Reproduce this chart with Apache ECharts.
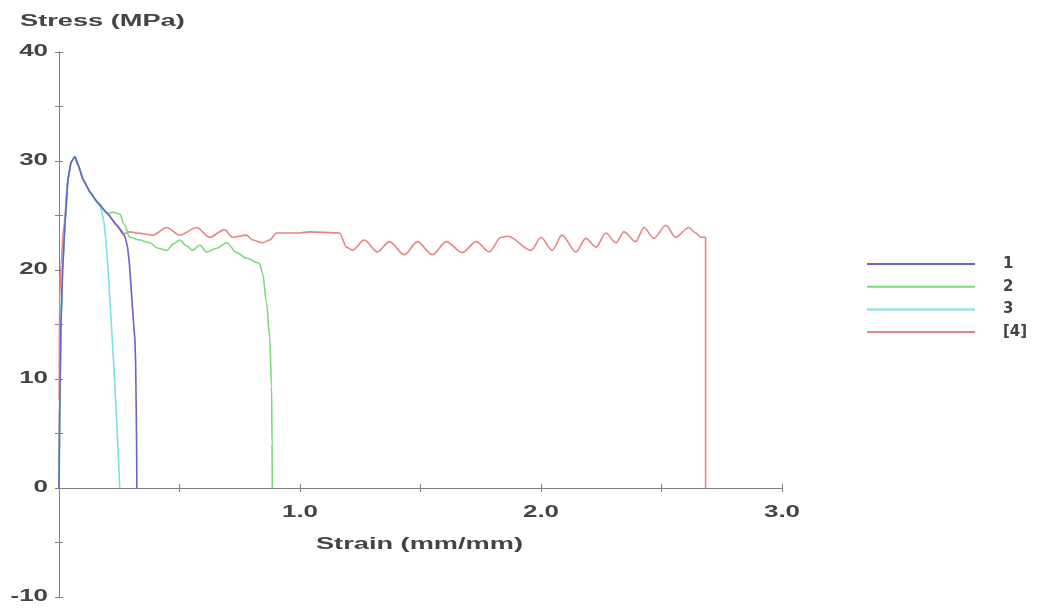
<!DOCTYPE html>
<html>
<head>
<meta charset="utf-8">
<title>Stress-Strain</title>
<script src="https://cdn.jsdelivr.net/npm/echarts@6/dist/echarts.min.js"></script>
<style>
  html, body { margin: 0; padding: 0; background: #ffffff; }
  #chart { width: 1047px; height: 614px; }
</style>
</head>
<body>
<div id="chart"></div>
<script>
// Specimen names
const specimenNames = ['1', '2', '3', '[4]'];

// Specimen 1
const strain1 = [0, 0.003, 0.008, 0.015, 0.025, 0.037, 0.05, 0.066, 0.08, 0.1, 0.13, 0.16, 0.2, 0.24, 0.262, 0.275, 0.285, 0.292, 0.298, 0.304, 0.31, 0.315, 0.318, 0.32, 0.322, 0.323];
const stress1 = [0, 7, 15, 20, 24.3, 28.3, 29.9, 30.4, 29.6, 28.3, 27.1, 26.2, 25.2, 24.1, 23.5, 23.0, 22.0, 20.6, 18.8, 16.8, 15.0, 13.6, 11.5, 8.0, 4.0, 0];

// Specimen 2
const strain2 = [0, 0.003, 0.008, 0.015, 0.025, 0.037, 0.05, 0.066, 0.08, 0.1, 0.13, 0.16, 0.2, 0.225, 0.253, 0.27, 0.294, 0.335, 0.377, 0.41, 0.447, 0.475, 0.501, 0.53, 0.555, 0.584, 0.613, 0.654, 0.696, 0.737, 0.778, 0.82, 0.832, 0.845, 0.861, 0.874, 0.882, 0.884, 0.885];
const stress2 = [0, 7, 15, 20, 24.3, 28.3, 29.9, 30.4, 29.6, 28.3, 27.1, 26.2, 25.2, 25.3, 25.1, 24.2, 23.0, 22.75, 22.5, 22.0, 21.8, 22.4, 22.75, 22.2, 21.8, 22.3, 21.65, 22.0, 22.5, 21.6, 21.1, 20.7, 20.6, 19.7, 17.0, 13.9, 9.3, 4, 0];

// Specimen 3
const strain3 = [0, 0.003, 0.008, 0.015, 0.025, 0.037, 0.05, 0.066, 0.08, 0.1, 0.13, 0.16, 0.175, 0.186, 0.195, 0.203, 0.212, 0.22, 0.228, 0.236, 0.243, 0.248, 0.252];
const stress3 = [0, 7, 15, 20, 24.3, 28.3, 29.9, 30.4, 29.6, 28.3, 27.1, 26.2, 25.6, 24.5, 22.6, 20.2, 17.0, 14.0, 11.0, 7.6, 4.5, 2.0, 0];

// Specimen 4
const strain4 = [0, 0.001, 0.002, 0.008, 0.02, 0.037, 0.05, 0.066, 0.08, 0.1, 0.13, 0.16, 0.2, 0.24, 0.265,
  0.294, 0.323, 0.389, 0.447, 0.501, 0.571, 0.625, 0.687, 0.72, 0.778, 0.803, 0.845, 0.874, 0.903, 0.998, 1.039, 1.164,
  1.193, 1.217, 1.267, 1.321, 1.371, 1.433, 1.487, 1.549, 1.607, 1.673, 1.731, 1.785, 1.834, 1.863, 1.959, 2.0,
  2.046, 2.087, 2.145, 2.186, 2.228, 2.269, 2.311, 2.344, 2.393, 2.427, 2.468, 2.518, 2.559, 2.613, 2.642, 2.663, 2.683, 2.683];
const stress4 = [0, 8, 17, 20.5, 24, 28.3, 29.9, 30.4, 29.6, 28.3, 27.1, 26.2, 25.2, 24.1, 23.3,
  23.5, 23.4, 23.2, 23.9, 23.2, 23.9, 23.0, 23.7, 23.0, 23.2, 22.75, 22.5, 22.75, 23.4, 23.4, 23.5, 23.4,
  22.1, 21.8, 22.75, 21.65, 22.6, 21.4, 22.6, 21.4, 22.6, 21.6, 22.6, 21.65, 23.0, 23.1, 21.8, 23.0,
  21.8, 23.2, 21.65, 22.9, 22.1, 23.4, 22.5, 23.5, 22.6, 23.9, 22.9, 24.1, 23.0, 23.9, 23.4, 23.0, 23.0, 0];

// Tick labels
const yTickLabels = [40, 30, 20, 10, 0, -10];
const xTickLabels = ['1.0', '2.0', '3.0'];
const xTickValues = [1, 2, 3];

// Axis titles
const yAxisTitle = 'Stress (MPa)';
const xAxisTitle = 'Strain (mm/mm)';

const colors = ['#6464d8', '#78dc78', '#78e4ea', '#e88484'];
const smoothing = [0, 0.3, 0, 0.3];
const strains = [strain1, strain2, strain3, strain4];
const stresses = [stress1, stress2, stress3, stress4];

const axisGray = '#808080';
const textColor = '#444444';
const FONT = 'bold 16px "Liberation Sans", Arial, sans-serif';

const chart = echarts.init(document.getElementById('chart'), null, { renderer: 'canvas' });

function pairs(xs, ys) {
  return xs.map((x, i) => [x, ys[i]]);
}

const baseX = {
  type: 'value', min: 0, max: 3, interval: 0.5,
  axisLine: { show: true, onZero: true, lineStyle: { color: axisGray, width: 1 } },
  axisLabel: { show: false },
  splitLine: { show: false }
};
const baseY = {
  type: 'value', min: -10, max: 40, interval: 5,
  position: 'left',
  axisLine: { show: true, lineStyle: { color: axisGray, width: 1 } },
  axisLabel: { show: false },
  splitLine: { show: false }
};

chart.setOption({
  animation: false,
  color: colors,
  grid: { left: 59, top: 52, width: 723, height: 545, containLabel: false },
  xAxis: [
    Object.assign({}, baseX, { position: 'bottom', axisTick: { show: true, inside: false, length: 4, lineStyle: { color: axisGray } } }),
    Object.assign({}, baseX, { position: 'bottom', axisTick: { show: true, inside: true, length: 4, lineStyle: { color: axisGray } } })
  ],
  yAxis: [
    Object.assign({}, baseY, { axisTick: { show: true, inside: false, length: 4, lineStyle: { color: axisGray } } }),
    Object.assign({}, baseY, { axisTick: { show: true, inside: true, length: 4, lineStyle: { color: axisGray } } })
  ],
  legend: {
    orient: 'vertical',
    left: 862,
    top: 251,
    icon: 'rect',
    itemWidth: 108,
    itemHeight: 2,
    itemGap: 6.7,
    selectedMode: false,
    textStyle: { fontFamily: '"DejaVu Sans", sans-serif', fontWeight: 'bold', fontSize: 15, lineHeight: 16, color: textColor, padding: [0, 0, 0, 23] },
    data: specimenNames
  },
  series: specimenNames.map((name, i) => ({
    name: name,
    type: 'line',
    xAxisIndex: 0,
    yAxisIndex: 0,
    data: pairs(strains[i], stresses[i]),
    showSymbol: false,
    symbol: 'none',
    smooth: smoothing[i],
    smoothMonotone: 'x',
    lineStyle: { width: 1.6, color: colors[i] },
    z: 10 - i
  }))
});

// Text is drawn horizontally widened, positioned with the chart's own coordinate conversion
const TICK_SCALE = 1.62;
const TITLE_SCALE = 1.7;
const graphics = [];

yTickLabels.forEach(v => {
  const p = chart.convertToPixel({ xAxisIndex: 0, yAxisIndex: 0 }, [0, v]);
  graphics.push({
    type: 'text', x: p[0] - 11, y: p[1], scaleX: TICK_SCALE,
    style: { text: String(v), font: FONT, fill: textColor, align: 'right', verticalAlign: 'middle' }
  });
});

xTickValues.forEach((v, i) => {
  const p = chart.convertToPixel({ xAxisIndex: 0, yAxisIndex: 0 }, [v, 0]);
  graphics.push({
    type: 'text', x: p[0], y: p[1] + 25, scaleX: TICK_SCALE,
    style: { text: xTickLabels[i], font: FONT, fill: textColor, align: 'center', verticalAlign: 'middle' }
  });
});

{
  const p0 = chart.convertToPixel({ xAxisIndex: 0, yAxisIndex: 0 }, [0, 0]);
  const p3 = chart.convertToPixel({ xAxisIndex: 0, yAxisIndex: 0 }, [3, 0]);
  graphics.push({
    type: 'text', x: (p0[0] + p3[0]) / 2 - 1, y: p0[1] + 57, scaleX: TITLE_SCALE,
    style: { text: xAxisTitle, font: FONT, fill: textColor, align: 'center', verticalAlign: 'middle' }
  });
  graphics.push({
    type: 'text', x: 20, y: 22, scaleX: TITLE_SCALE,
    style: { text: yAxisTitle, font: FONT, fill: textColor, align: 'left', verticalAlign: 'middle' }
  });
}

chart.setOption({ graphic: graphics });
</script>
</body>
</html>
